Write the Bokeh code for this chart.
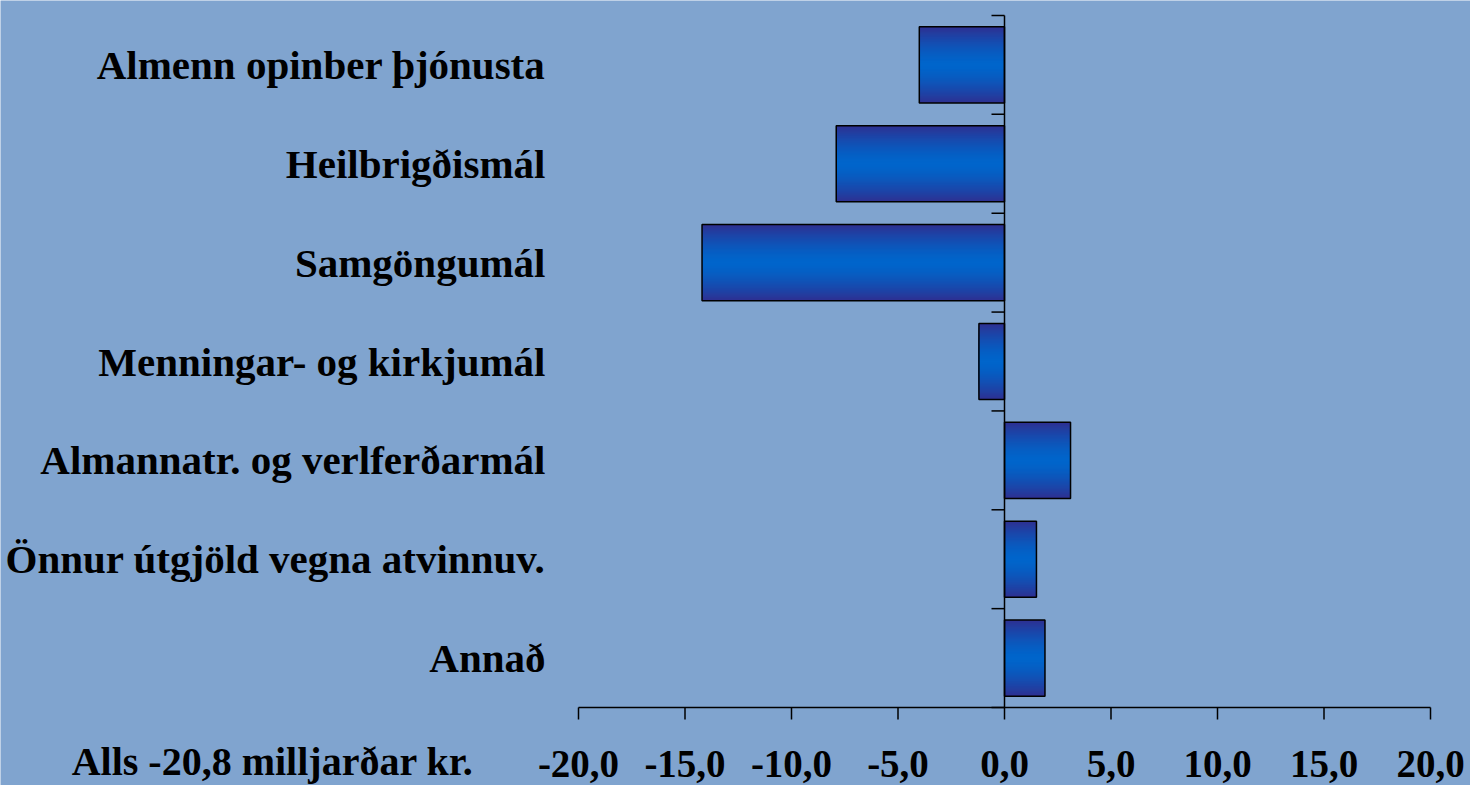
import numpy as np
from bokeh.plotting import figure
from bokeh.models import Range1d
from bokeh.core.properties import value
from bokeh.embed import file_html
from bokeh.resources import INLINE

# ---------------- data ----------------
categories = ["Almenn opinber þjónusta", "Heilbrigðismál", "Samgöngumál",
              "Menningar- og kirkjumál", "Almannatr. og verlferðarmál",
              "Önnur útgjöld vegna atvinnuv.", "Annað"]
values = [-4.0, -7.9, -14.2, -1.2, 3.1, 1.5, 1.9]
x_ticks = [-20, -15, -10, -5, 0, 5, 10, 15, 20]
x_tick_labels = ["-20,0", "-15,0", "-10,0", "-5,0", "0,0", "5,0", "10,0", "15,0", "20,0"]
total_label = "Alls -20,8 milljarðar kr."

# ---------------- layout (pixels) ----------------
W, H = 1470, 785
PLOT_L, PLOT_R = 578, 1430      # pixel positions of first / last x tick
PLOT_T, PLOT_B = 15, 707        # pixel positions of top / bottom of category axis
BG = "#80A4CF"
FONT = value("Liberation Serif")
EDGE = np.array([46, 49, 146])
CENTER = np.array([0, 102, 204])
BAR_H = 0.77
N_LAYERS = 40

n = len(categories)
ypos = [n - 1 - i for i in range(n)]  # first category on top
xmin, xmax = x_ticks[0], x_ticks[-1]
pxu = (PLOT_R - PLOT_L) / (xmax - xmin)          # px per x unit
pyu = (PLOT_B - PLOT_T) / n                       # px per category band
ybot, ytop = -0.5, n - 0.5

x_range = Range1d(xmin - PLOT_L / pxu, xmax + (W - PLOT_R) / pxu)
y_range = Range1d(ybot - (H - PLOT_B) / pyu, ytop + PLOT_T / pyu)

p = figure(width=W, height=H, x_range=x_range, y_range=y_range,
           x_axis_location=None, y_axis_location=None,
           output_backend="svg", toolbar_location=None,
           min_border=0, min_border_left=0, min_border_right=0,
           min_border_top=0, min_border_bottom=0)
p.background_fill_color = BG
p.border_fill_color = BG
p.outline_line_color = None
p.xgrid.visible = False
p.ygrid.visible = False

# gradient bars: nested layers from the dark edge to the bright centre
bar_left = [min(0, v) for v in values]
bar_right = [max(0, v) for v in values]
for k in range(N_LAYERS):
    frac = 1 - k / N_LAYERS
    w = frac ** 1.5
    c = (CENTER * (1 - w) + EDGE * w).astype(int)
    p.hbar(y=ypos, left=bar_left, right=bar_right, height=BAR_H * frac,
           fill_color="#%02x%02x%02x" % tuple(c), line_color=None)
p.hbar(y=ypos, left=bar_left, right=bar_right, height=BAR_H,
       fill_color=None, line_color="black", line_width=1.5)

# category axis at x = 0 with ticks at band boundaries (pointing left)
bounds = [i - 0.5 for i in range(n + 1)]
p.segment(x0=[0], x1=[0], y0=[ybot], y1=[ytop], line_color="black", line_width=1.5)
p.segment(x0=[-13 / pxu] * len(bounds), x1=[0] * len(bounds), y0=bounds, y1=bounds,
          line_color="black", line_width=1.5)

# value axis at the bottom
p.segment(x0=[xmin], x1=[xmax], y0=[ybot], y1=[ybot], line_color="black", line_width=1.5)
p.segment(x0=x_ticks, x1=x_ticks, y0=[ybot] * len(x_ticks),
          y1=[ybot - 12 / pyu] * len(x_ticks), line_color="black", line_width=1.5)
p.text(x=x_ticks, y=[ybot - 56 / pyu] * len(x_ticks), text=x_tick_labels,
       text_font=FONT, text_font_style="bold", text_font_size="39px",
       text_color="black", text_align="center", text_baseline="middle")

# category labels
p.text(x=[-(PLOT_L - 545) / pxu + xmin] * n, y=ypos, text=categories,
       text_font=FONT, text_font_style="bold", text_font_size="41px",
       text_color="black", text_align="right", text_baseline="middle")

# total
p.text(x=[xmin - (PLOT_L - 473) / pxu], y=[ybot - 54 / pyu], text=[total_label],
       text_font=FONT, text_font_style="bold", text_font_size="40px",
       text_color="black", text_align="right", text_baseline="middle")

open("out.html", "w").write(file_html(p, INLINE))
